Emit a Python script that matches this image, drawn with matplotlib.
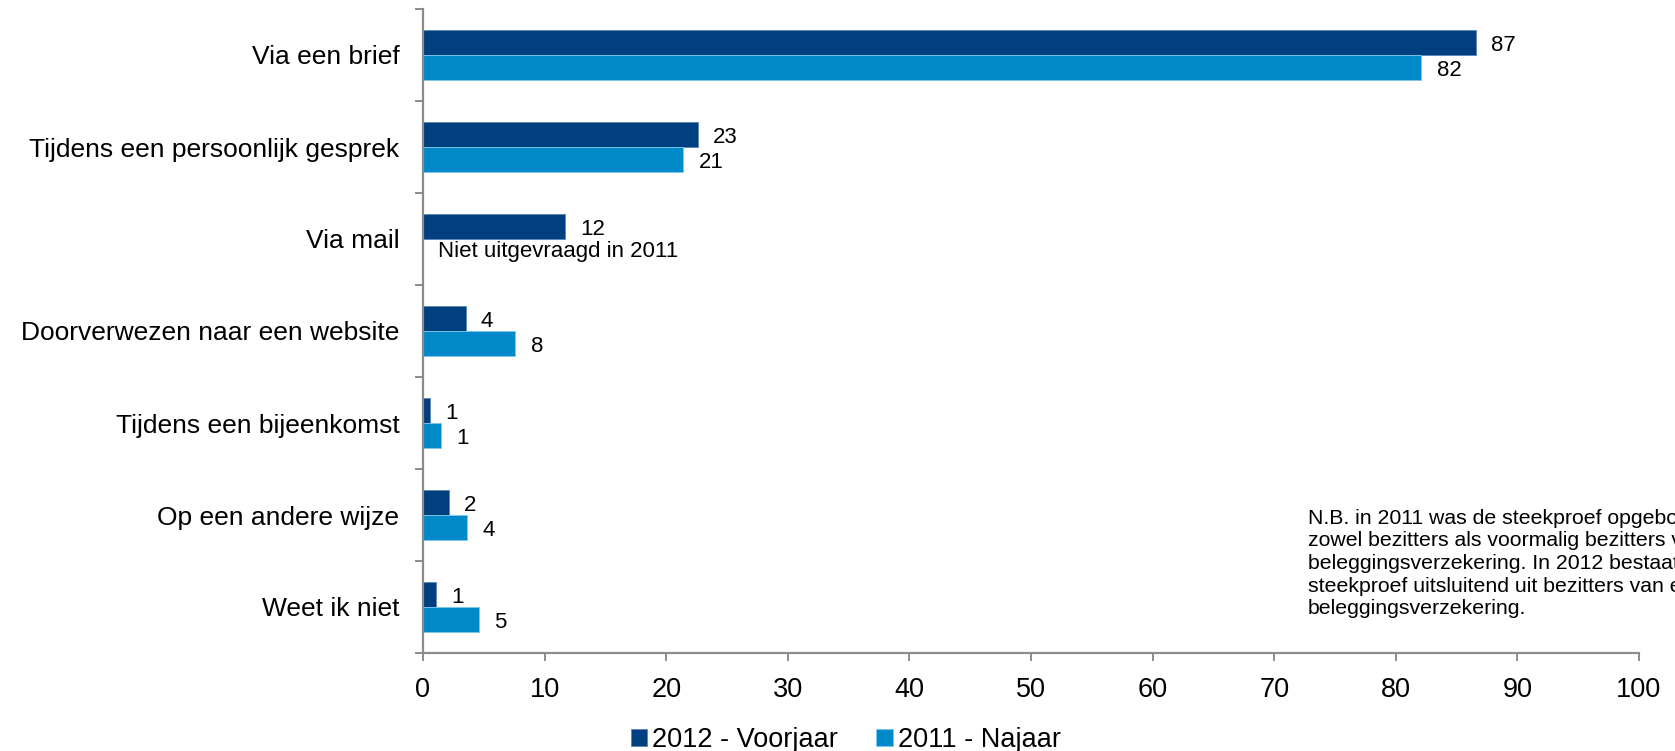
"""Horizontal grouped bar chart: hoe geïnformeerd (2012 vs 2011)."""
import matplotlib
matplotlib.use("Agg")
import matplotlib.pyplot as plt
import numpy as np

plt.rcParams["font.family"] = ["Liberation Sans", "DejaVu Sans"]

categories = [
    "Via een brief",
    "Tijdens een persoonlijk gesprek",
    "Via mail",
    "Doorverwezen naar een website",
    "Tijdens een bijeenkomst",
    "Op een andere wijze",
    "Weet ik niet",
]
voorjaar_2012 = [86.6, 22.6, 11.7, 3.5, 0.6, 2.1, 1.1]
najaar_2011 = [82.1, 21.4, None, 7.6, 1.45, 3.6, 4.6]
series_names = ["2012 - Voorjaar", "2011 - Najaar"]
note_lines = [
    "N.B. in 2011 was de steekproef opgebouwd uit",
    "zowel bezitters als voormalig bezitters van een",
    "beleggingsverzekering. In 2012 bestaat de",
    "steekproef uitsluitend uit bezitters van een",
    "beleggingsverzekering.",
]
missing_text = "Niet uitgevraagd in 2011"

DARK = "#023f80"
LIGHT = "#0089c9"
GREY = "#8c8c8c"

W, H = 1675, 751
fig = plt.figure(figsize=(W / 100, H / 100), dpi=100)
ax = fig.add_axes([423 / W, 1 - 653 / H, (1639 - 423) / W, (653 - 9) / H])

y = np.arange(len(categories))
h = 0.277

v1 = np.array(voorjaar_2012, dtype=float)
v2 = np.array([np.nan if v is None else v for v in najaar_2011], dtype=float)

b1 = ax.barh(y - h / 2, v1, height=h, color=DARK, edgecolor="#5b84b3",
             linewidth=0.6, label=series_names[0])
b2 = ax.barh(y + h / 2, np.nan_to_num(v2), height=h, color=LIGHT,
             edgecolor="#7ccaee", linewidth=0.6, label=series_names[1])

for yi, v in zip(y, v1):
    ax.annotate(f"{v:.0f}", (v, yi - h / 2), xytext=(11, -2),
                textcoords="offset points", ha="left", va="center",
                fontsize=16)
for yi, v in zip(y, v2):
    if np.isnan(v):
        ax.annotate(missing_text, (0, yi + h / 2), xytext=(11, 0),
                    textcoords="offset points", ha="left", va="center",
                    fontsize=16)
        continue
    ax.annotate(f"{v:.0f}", (v, yi + h / 2), xytext=(11, -2),
                textcoords="offset points", ha="left", va="center",
                fontsize=16)

ax.set_xlim(0, 100)
ax.set_ylim(len(categories) - 0.5, -0.5)
ax.set_xticks(np.arange(0, 101, 10))
ax.set_yticks(y)
ax.set_yticklabels(categories)
ax.set_yticks(np.arange(-0.5, len(categories)), minor=True)

for s in ["top", "right"]:
    ax.spines[s].set_visible(False)
for s in ["left", "bottom"]:
    ax.spines[s].set_color(GREY)
    ax.spines[s].set_linewidth(1.6)

ax.tick_params(axis="y", which="major", length=0, pad=17, labelsize=19)
ax.tick_params(axis="y", which="minor", length=6, width=1.4, color=GREY,
               direction="out")
ax.tick_params(axis="x", length=6, width=1.4, color=GREY, direction="out",
               pad=11, labelsize=19.5)

# note, one line at a time so the line spacing can be matched
for i, line in enumerate(note_lines):
    fig.text(1308 / W, 1 - (524 + 22.5 * i) / H, line, ha="left",
             va="baseline", fontsize=15.3)

fig.legend(handles=[b1, b2], labels=series_names, loc="center",
           bbox_to_anchor=(0.505, 1 - 740 / H), ncol=2, frameon=False,
           fontsize=19.5, handlelength=0.6, handleheight=0.6,
           handletextpad=0.2, columnspacing=1.4, borderpad=0)

fig.savefig("out.png", dpi=100)
